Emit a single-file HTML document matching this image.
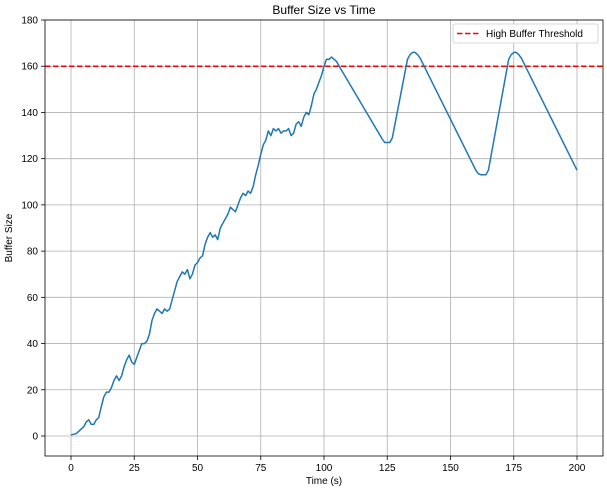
<!DOCTYPE html>
<html><head><meta charset="utf-8"><style>
body{margin:0;background:#fff;font-family:"Liberation Sans","DejaVu Sans",sans-serif}
svg text{font-family:"Liberation Sans","DejaVu Sans",sans-serif;fill:#000}
</style></head><body>
<svg id="chart" width="607" height="489" xmlns="http://www.w3.org/2000/svg"></svg>
<script>
const times=[0,2,3,4,5,6,7,8,9,10,11,12,13,14,15,16,17,18,19,20,21,22,23,24,25,26,27,28,29,30,31,32,33,34,35,36,37,38,39,40,41,42,43,44,45,46,47,48,49,50,51,52,53,54,55,56,57,58,59,60,61,62,63,64,65,66,67,68,69,70,71,72,73,74,75,76,77,78,79,80,81,82,83,84,85,86,87,88,89,90,91,92,93,94,95,96,97,98,99,100,101,102,103,104,105,106,123,124,126,127,133,134,135,136,137,138,160,161,162,164,165,173,174,175,176,177,178,200];
const bufferValues=[0.5,1,2,3,4,6,7,5,5,7,8,13,17,19,19,21,24,26,24,26,30,33,35,32,31,34,37,40,40,41,44,50,53,55,54,53,55,54,55,59,63,67,69,71,70,72,68,70,74,75,77,78,83,86,88,86,87,85,90,92,94,96,99,98,97,100,103,105,104,106,105,108,113,117,122,126,128,132,130,133,132,133,131,132,132,133,130,131,135,136,134,138,140,139,143,148,150,153,156,160,163,163,164,163,162,160,128.5,127,127,129,163,165,166,166,165,163.5,115,113.5,113,113,115,163,165,166,166,165,163.5,115];
const threshold=160;
const xTicks=[0,25,50,75,100,125,150,175,200];
const yTicks=[0,20,40,60,80,100,120,140,160,180];
const svg=document.getElementById('chart');
const NS='http://www.w3.org/2000/svg';
const L=45,R=603,T=20,B=456;
const X=v=>71+(v-0)*(577-71)/200;
const Y=v=>436-v*(436-20)/180;
function mk(tag,attrs,parent){const e=document.createElementNS(NS,tag);for(const k in attrs)e.setAttribute(k,attrs[k]);(parent||svg).appendChild(e);return e;}
const grid=mk('g',{});


xTicks.forEach(t=>{
 const l=mk('line',{x1:X(t),x2:X(t),y1:T,y2:B,stroke:'#b0b0b0','stroke-width':0.8},grid);
 
 
 mk('line',{x1:X(t),x2:X(t),y1:B,y2:B+4,stroke:'#000','stroke-width':0.8});
 const tx=mk('text',{x:X(t),y:B+15,'text-anchor':'middle','font-size':10});
 tx.textContent=t;
 
 
});
yTicks.forEach(t=>{
 const l=mk('line',{x1:L,x2:R,y1:Y(t),y2:Y(t),stroke:'#b0b0b0','stroke-width':0.8},grid);
 
 
 mk('line',{x1:L-4,x2:L,y1:Y(t),y2:Y(t),stroke:'#000','stroke-width':0.8});
 const tx=mk('text',{x:L-7,y:Y(t)+3.5,'text-anchor':'end','font-size':10});
 tx.textContent=t;
 
 
});
const thr=mk('line',{x1:L,x2:R,y1:Y(threshold),y2:Y(threshold),stroke:'#ff0000','stroke-width':1.5,'stroke-dasharray':'5.5,2.5'});


const pts=times.map((t,i)=>X(t).toFixed(1)+','+Y(bufferValues[i]).toFixed(1)).join(' ');
const line=mk('polyline',{points:pts,fill:'none',stroke:'#1f77b4','stroke-width':1.5,'stroke-linejoin':'round'});


const frame=mk('rect',{x:L,y:T,width:R-L,height:B-T,fill:'none',stroke:'#000','stroke-width':0.8});


const title=mk('text',{x:(L+R)/2,y:14,'text-anchor':'middle','font-size':12});
title.textContent='Buffer Size vs Time';


const xl=mk('text',{x:(L+R)/2,y:484,'text-anchor':'middle','font-size':10});
xl.textContent='Time (s)';


const yl=mk('text',{x:12,y:(T+B)/2,'text-anchor':'middle','font-size':10,transform:'rotate(-90 12 '+(T+B)/2+')'});
yl.textContent='Buffer Size';


const lg=mk('g',{});


mk('rect',{x:453,y:24,width:145,height:19,rx:2,fill:'#fff','fill-opacity':0.85,stroke:'#ccc','stroke-width':0.8},lg);
mk('line',{x1:457,x2:481,y1:33.5,y2:33.5,stroke:'#ff0000','stroke-width':1.5,'stroke-dasharray':'5.5,2.5'},lg);
const lt=mk('text',{x:486,y:37,'font-size':10},lg);
lt.textContent='High Buffer Threshold';


</script>
</body></html>
